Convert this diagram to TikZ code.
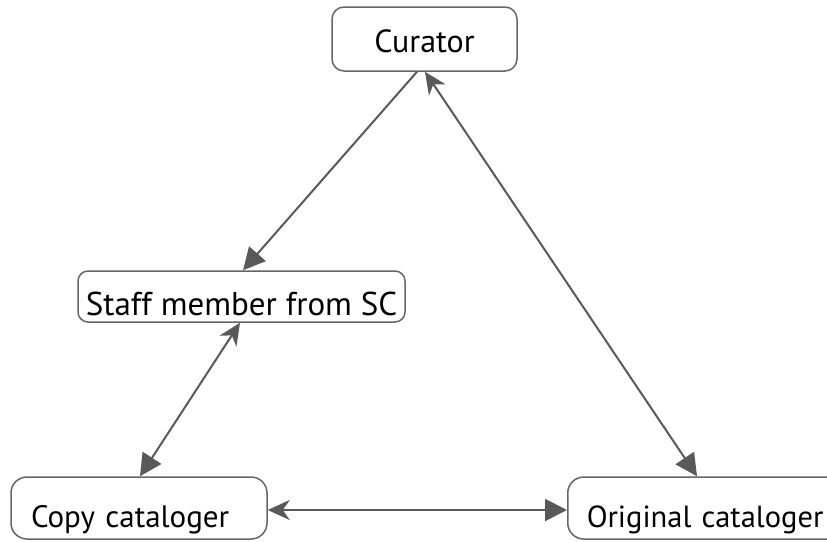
\documentclass[tikz,border=0pt]{standalone}
\usepackage{fontspec}
\setmainfont{PT Sans}
\usetikzlibrary{arrows.meta}
\definecolor{boxgray}{HTML}{666666}
\definecolor{edgegray}{HTML}{595959}
\tikzset{
  box/.style={draw=boxgray, line width=1.5pt, fill=white, rounded corners=12pt,
    font=\fontsize{32}{36}\selectfont, text=black, inner sep=0pt, text depth=0pt},
  leftbox/.style={box, rounded corners=16pt, align=left, inner xsep=20pt},
  edge/.style={draw=edgegray, line width=2pt},
  tgt/.tip={Triangle[length=22pt, width=22pt]},
  src/.tip={Stealth[length=22pt, width=20pt, inset=7pt]}
}
\begin{document}
\begin{tikzpicture}[x=1pt,y=-1pt]
\useasboundingbox (0,0) rectangle (827,541);
\node[box, minimum width=185pt, minimum height=64pt, text height=26pt] (cur) at (424.5,39) {Curator};
\node[box, rounded corners=10pt, minimum width=327pt, minimum height=51pt, text height=37pt, font=\fontsize{33}{36}\selectfont] (staff) at (241.5,296.5) {Staff member from SC};
\node[leftbox, minimum height=62pt, text width=216pt, text height=38pt, font=\fontsize{31}{36}\selectfont] (copy) at (139,508) {Copy cataloger};
\node[leftbox, anchor=west, inner xsep=19pt, minimum height=62pt, text width=250pt, text height=38pt, font=\fontsize{30.5}{36}\selectfont] (orig) at (567,508) {Original cataloger};
\draw[edge, -tgt] ([xshift=-7.5pt]cur.south) -- ([xshift=1.5pt]staff.north);
\draw[edge, src-tgt] ([xshift=0.5pt]cur.south) -- ([xshift=130pt]orig.north west);
\draw[edge, src-tgt] ([xshift=-1.5pt]staff.south) -- ([xshift=1pt]copy.north);
\draw[edge, src-tgt] ([yshift=-2pt]copy.east) -- ([yshift=-2pt]orig.west);
\end{tikzpicture}
\end{document}
